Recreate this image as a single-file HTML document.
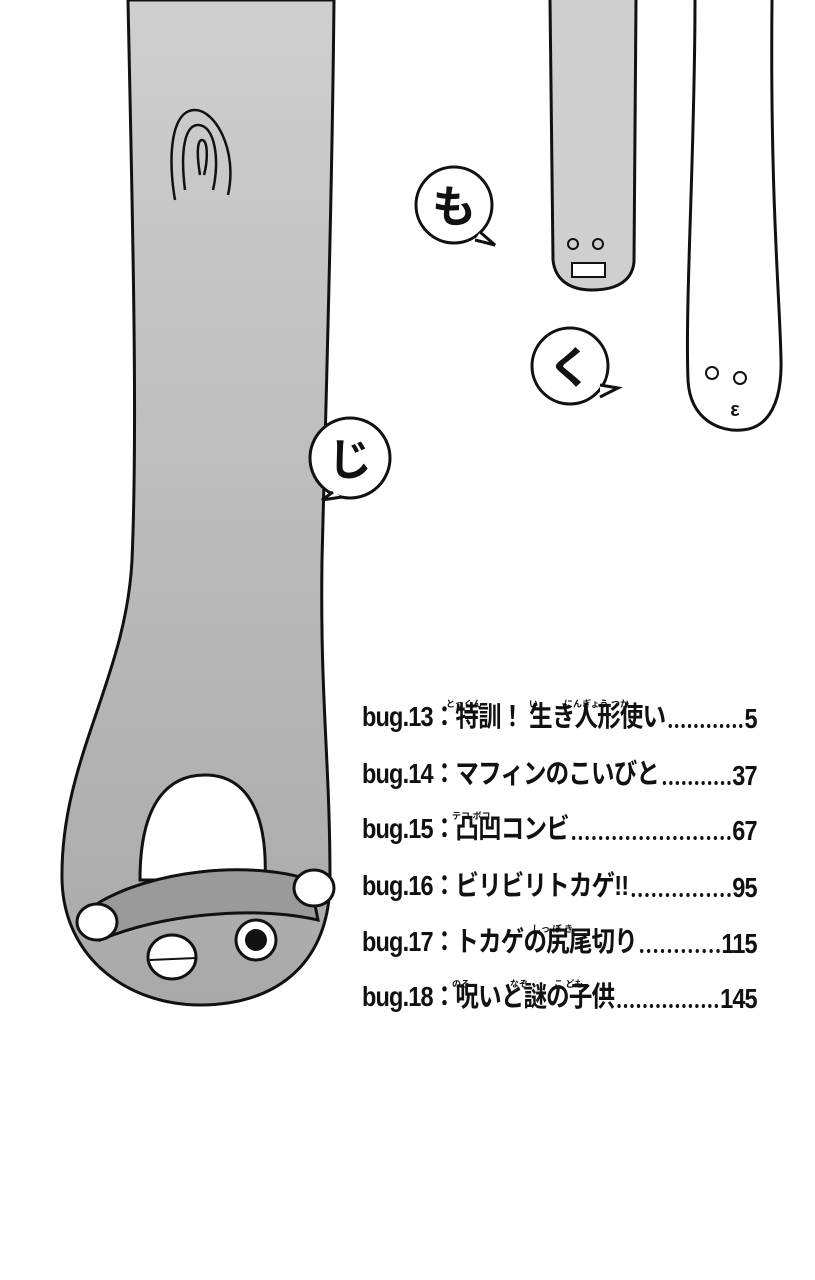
<!DOCTYPE html>
<html><head><meta charset="utf-8"><style>
body{margin:0;width:815px;height:1280px;background:#fff;position:relative;overflow:hidden;font-family:"Liberation Sans","Noto Sans CJK JP",sans-serif}
.row{position:absolute;left:362px;width:470px;height:32px;display:flex;align-items:flex-end;font-size:28px;font-weight:bold;color:#111;letter-spacing:-1px;transform:scaleX(.84);transform-origin:left bottom}
.row .t{white-space:nowrap}
.row .d{flex:1;border-bottom:4px dotted #111;margin:0 2px 7px 4px}
.row .n{white-space:nowrap}
.rb{position:absolute;font-size:9px;color:#111;font-weight:bold}
</style></head><body>
<svg width="815" height="1280" style="position:absolute;left:0;top:0">
<defs><linearGradient id="g" x1="0" y1="0" x2="0" y2="1"><stop offset="0" stop-color="#cfcfcf"/><stop offset="1" stop-color="#a9a9a9"/></linearGradient></defs>
<path d="M128 0 C132 200 138 420 132 560 C126 680 60 760 62 880 C64 960 130 1005 200 1005 C280 1005 330 960 330 880 C330 760 320 700 322 560 C326 400 332 200 334 0 Z" fill="url(#g)" stroke="#111" stroke-width="3"/>
<path d="M140 880 C140 800 170 775 205 775 C245 775 268 810 265 880 Z" fill="#fff" stroke="#111" stroke-width="3"/>
<path d="M95 905 C150 870 250 860 310 880 L318 920 C250 905 160 915 100 940 Z" fill="#9a9a9a" stroke="#111" stroke-width="3"/>
<ellipse cx="97" cy="922" rx="20" ry="18" fill="#fff" stroke="#111" stroke-width="3"/>
<ellipse cx="314" cy="888" rx="20" ry="18" fill="#fff" stroke="#111" stroke-width="3"/>
<ellipse cx="172" cy="957" rx="24" ry="22" fill="#fff" stroke="#111" stroke-width="3"/>
<line x1="150" y1="960" x2="196" y2="958" stroke="#111" stroke-width="2"/>
<circle cx="256" cy="940" r="20" fill="#fff" stroke="#111" stroke-width="3"/>
<circle cx="256" cy="940" r="11" fill="#111"/>
<path d="M228 195 C238 150 215 110 195 110 C170 110 168 160 175 200 M185 190 C180 150 185 125 198 125 C215 125 220 160 213 190 M200 175 C196 150 198 140 202 140 C208 140 208 160 204 175" fill="none" stroke="#111" stroke-width="2.5"/>
<path d="M550 0 L553 260 C555 280 570 290 592 290 C615 290 632 282 634 262 L636 0" fill="#cfcfcf" stroke="#111" stroke-width="3"/>
<circle cx="573" cy="244" r="5" fill="none" stroke="#111" stroke-width="2"/><circle cx="598" cy="244" r="5" fill="none" stroke="#111" stroke-width="2"/>
<rect x="572" y="263" width="33" height="14" fill="#fff" stroke="#111" stroke-width="2"/>
<path d="M695 0 C695 150 685 300 688 380 C690 420 720 432 742 430 C770 428 782 400 781 360 C780 300 770 200 772 0" fill="#fff" stroke="#111" stroke-width="3"/>
<circle cx="712" cy="373" r="6" fill="none" stroke="#111" stroke-width="2"/><circle cx="740" cy="378" r="6" fill="none" stroke="#111" stroke-width="2"/>
<g fill="#fff" stroke="#111" stroke-width="3">
<circle cx="454" cy="205" r="38"/><path d="M480 232 L495 245 L475 240"/>
<circle cx="570" cy="366" r="38"/><path d="M600 385 L618 388 L600 397"/>
<circle cx="350" cy="458" r="40"/><path d="M333 492 L322 500 L342 497"/>
</g>
<g font-family="Liberation Sans,Noto Sans CJK JP,sans-serif" font-size="44" font-weight="bold" text-anchor="middle" fill="#111">
<text x="454" y="222">も</text><text x="570" y="383">く</text><text x="350" y="475">じ</text>
<text x="735" y="416" font-size="20">ε</text>
</g>
</svg>
<div class="rb" style="left:446px;top:697px">とっくん</div><div class="rb" style="left:529px;top:697px">い</div><div class="rb" style="left:564px;top:697px">にんぎょう つか</div>
<div class="row" style="top:703px"><span class="t">bug.13：特訓！ 生き人形使い</span><span class="d"></span><span class="n">5</span></div>
<div class="row" style="top:760px"><span class="t">bug.14：マフィンのこいびと</span><span class="d"></span><span class="n">37</span></div>
<div class="rb" style="left:452px;top:809px">テコ ボコ</div>
<div class="row" style="top:815px"><span class="t">bug.15：凸凹コンビ</span><span class="d"></span><span class="n">67</span></div>
<div class="row" style="top:872px"><span class="t">bug.16：ビリビリトカゲ!!</span><span class="d"></span><span class="n">95</span></div>
<div class="rb" style="left:532px;top:922px">しっ ぽ き</div>
<div class="row" style="top:928px"><span class="t">bug.17：トカゲの尻尾切り</span><span class="d"></span><span class="n">115</span></div>
<div class="rb" style="left:452px;top:977px">のろ</div><div class="rb" style="left:510px;top:977px">なぞ</div><div class="rb" style="left:554px;top:977px">こ ども</div>
<div class="row" style="top:983px"><span class="t">bug.18：呪いと謎の子供</span><span class="d"></span><span class="n">145</span></div>
</body></html>
